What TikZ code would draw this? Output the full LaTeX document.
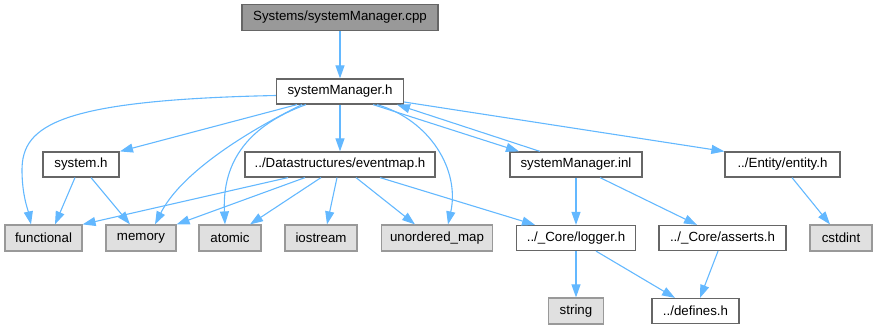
\documentclass[tikz,border=0pt]{standalone}
\usepackage{fontspec}
\setmainfont{Liberation Sans}
\usetikzlibrary{arrows.meta}
\definecolor{edgeblue}{HTML}{63B8FF}
\definecolor{boxline}{HTML}{666666}
\definecolor{extline}{HTML}{999999}
\definecolor{extfill}{HTML}{E0E0E0}
\definecolor{rootfill}{HTML}{999999}
\tikzset{
  filebox/.style={draw=boxline, fill=white, line width=1.2pt, inner sep=0pt,
    minimum height=25pt, font=\fontsize{13.3}{15}\selectfont},
  extbox/.style={filebox, draw=extline, fill=extfill, minimum height=26pt},
  rootbox/.style={filebox, fill=rootfill, minimum height=26pt},
  dep/.style={draw=edgeblue, line width=1.1pt,
    -{Triangle[length=13pt,width=9pt]}},
}
\begin{document}
\begin{tikzpicture}[x=1pt,y=-1pt]
\useasboundingbox (0,0) rectangle (877,329);
% files
\node[rootbox, minimum width=196pt] (cpp) at (340,17.5) {Systems/systemManager.cpp};
\node[filebox, minimum width=127pt] (smh) at (340,91.5) {systemManager.h};
\node[filebox, minimum width=76pt] (sysh) at (81,164.5) {system.h};
\node[filebox, minimum width=190pt] (evm) at (340,164.5) {../Datastructures/eventmap.h};
\node[filebox, minimum width=132pt] (inl) at (576,164.5) {systemManager.inl};
\node[filebox, minimum width=115pt] (ent) at (782.5,164.5) {../Entity/entity.h};
\node[extbox, minimum width=77pt] (func) at (43.5,238) {functional};
\node[extbox, minimum width=70pt] (mem) at (141,238) {memory};
\node[extbox, minimum width=62pt] (atom) at (230,238) {atomic};
\node[extbox, minimum width=72pt] (ios) at (321,238) {iostream};
\node[extbox, minimum width=111pt] (umap) at (437,238) {unordered\_map};
\node[filebox, minimum width=119pt] (log) at (576,238) {../\_Core/logger.h};
\node[filebox, minimum width=127pt] (ass) at (722.5,238) {../\_Core/asserts.h};
\node[extbox, minimum width=62pt] (cst) at (841,238) {cstdint};
\node[extbox, minimum width=55pt] (str) at (576,311) {string};
\node[filebox, minimum width=87pt] (def) at (695.5,311) {../defines.h};
% includes of the source file
\draw[dep] (cpp.south) -- (smh.north);
% includes of systemManager.h
\draw[dep] ([yshift=-4pt]smh.west) .. controls (60,100) and (22,125) .. (22,170)
  .. controls (22,195) and (28,210) .. ([xshift=-12.5pt]func.north);
\draw[dep] ([xshift=-43pt]smh.south) -- ([xshift=39pt]sysh.north);
\draw[dep] ([xshift=-38pt]smh.south) .. controls (240,135) and (180,175) .. ([xshift=14pt]mem.north);
\draw[dep] ([xshift=-34pt]smh.south) .. controls (250,125) and (222,160) .. ([xshift=-5pt]atom.north);
\draw[dep] (smh.south) -- (evm.north);
\draw[dep] ([xshift=37pt]smh.south) .. controls (430,120) and (460,170) .. ([xshift=11pt]umap.north);
\draw[dep] ([xshift=33pt]smh.south) -- ([xshift=-57pt]inl.north);
\draw[dep] ([xshift=-36pt]inl.north) -- ([xshift=57pt]smh.south);
\draw[dep] ([yshift=-10.5pt]smh.east) -- (ent.north west);
% includes of system.h
\draw[dep] ([xshift=-6pt]sysh.south) -- ([xshift=11.5pt]func.north);
\draw[dep] ([xshift=10pt]sysh.south) -- ([xshift=-11pt]mem.north);
% includes of eventmap.h
\draw[dep] ([xshift=-52pt]evm.south) -- (func.north east);
\draw[dep] ([xshift=-35pt]evm.south) -- (mem.north east);
\draw[dep] ([xshift=-19pt]evm.south) -- ([xshift=20pt]atom.north);
\draw[dep] ([xshift=-3pt]evm.south) -- ([xshift=6pt]ios.north);
\draw[dep] ([xshift=16pt]evm.south) -- ([xshift=-22pt]umap.north);
\draw[dep] ([xshift=40pt]evm.south) -- ([xshift=-41pt]log.north);
% includes of systemManager.inl
\draw[dep] (inl.south) -- (log.north);
\draw[dep] ([xshift=24pt]inl.south) -- ([xshift=-25.5pt]ass.north);
% includes of entity.h
\draw[dep] ([xshift=9.5pt]ent.south) -- ([xshift=-11pt]cst.north);
% includes of the core headers
\draw[dep] (log.south) -- (str.north);
\draw[dep] ([xshift=20pt]log.south) -- ([xshift=-20.5pt]def.north);
\draw[dep] ([xshift=-4.5pt]ass.south) -- ([xshift=4.5pt]def.north);
\end{tikzpicture}
\end{document}
